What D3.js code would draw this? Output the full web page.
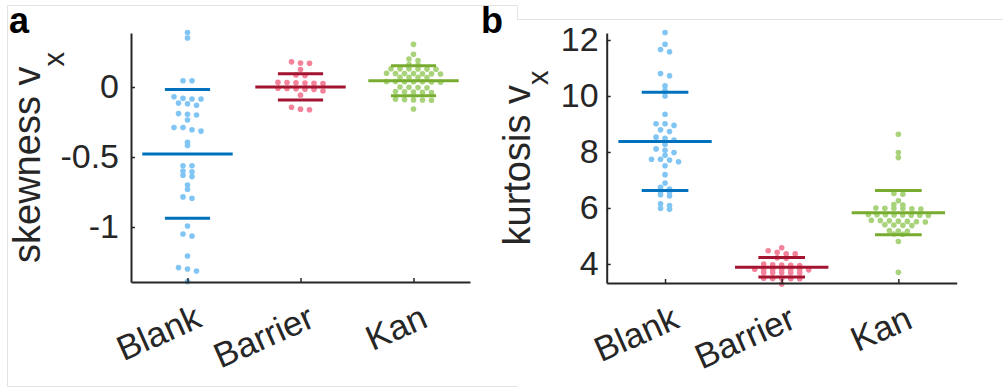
<!DOCTYPE html>
<html><head><meta charset="utf-8">
<script src="https://cdn.jsdelivr.net/npm/d3@7"></script>
<style>
body{margin:0;background:#fff;}
svg{display:block;font-family:"Liberation Sans",Arial,Helvetica,sans-serif;}
</style>
</head><body>
<svg id="chart" width="1003" height="387"></svg>
<script>
// ---------------- data ----------------
const categories = ["Blank", "Barrier", "Kan"];

const skewBlank = [0.39, 0.35, 0.045, 0.045, -0.069, -0.081, -0.086, -0.086, -0.115, -0.12, -0.13,
  -0.19, -0.195, -0.2, -0.236, -0.29, -0.29, -0.305, -0.315, -0.395, -0.418, -0.562, -0.562,
  -0.6, -0.605, -0.63, -0.64, -0.7, -0.73, -0.785, -0.795, -0.993, -1.05, -1.065, -1.207,
  -1.29, -1.30, -1.315, -1.39];
const skewBarrier = [0.18, 0.172, 0.17, 0.125, 0.086, 0.082, 0.034, 0.032, 0.03, 0.028, 0.026, 0.024,
  -0.008, -0.01, -0.012, -0.015, -0.018, -0.028, -0.058, -0.145, -0.158, -0.162];
const skewKan = [0.305, 0.234, 0.2, 0.19, 0.16, 0.158, 0.131, 0.13, 0.13, 0.129, 0.128, 0.127,
  0.098, 0.097, 0.096, 0.096, 0.095, 0.094, 0.093, 0.07, 0.069, 0.069, 0.068,
  0.04, 0.039, 0.038, 0.038, 0.037, 0.036, 0.035, 0.0, -0.002, -0.004, -0.006,
  -0.032, -0.034, -0.036, -0.038, -0.04, -0.088, -0.09, -0.092, -0.093, -0.095, -0.157];
const skewMean = [-0.478, 0.001, 0.045];
const skewSD = [0.46, 0.094, 0.107];

const kurtBlank = [12.27, 11.85, 11.66, 11.58, 10.8, 10.72, 10.36, 10.19, 10.0, 9.35,
  9.01, 9.01, 8.95, 8.79, 8.73, 8.53, 8.49, 8.43, 8.27, 8.11, 8.06, 7.98, 7.88,
  7.74, 7.74, 7.71, 7.65, 7.51, 7.19, 6.89, 6.74, 6.68, 6.58, 6.57, 6.47, 6.43,
  6.15, 6.09, 5.99, 5.95];
const kurtBarrier = [4.58, 4.47, 4.42, 4.36, 4.36, 4.22, 4.2, 4.0, 3.97, 3.96, 3.95, 3.94,
  3.81, 3.805, 3.8, 3.8, 3.795, 3.79, 3.79, 3.69, 3.688, 3.685, 3.683, 3.68,
  3.49, 3.485, 3.48, 3.475, 3.47, 3.28];
const kurtKan = [8.63, 7.98, 7.8, 6.52, 6.49, 6.26, 6.12, 6.1, 6.0, 5.99, 5.99, 5.98, 5.97, 5.96,
  5.77, 5.76, 5.76, 5.75, 5.75, 5.74, 5.74, 5.73, 5.56, 5.55, 5.54, 5.53, 5.52, 5.51, 5.5,
  5.40, 5.39, 5.38, 5.37, 5.19, 5.18, 5.17, 5.07, 5.06, 4.8, 3.7];
const kurtMean = [8.375, 3.88, 5.83];
const kurtSD = [1.755, 0.35, 0.79];

const skewTicks = [-1, -0.5, 0];
const kurtTicks = [4, 6, 8, 10, 12];

// ---------------- styles ----------------
const lineColors = ["#0072BD", "#A2142F", "#77AC30"];
const dotColors = ["#80C5F4", "#F4829A", "#A9D37A"];
const axisColor = "#262626";

const svg = d3.select("#chart");

// light frame lines of the original figure
const frame = svg.append("g").attr("stroke", "#e3e3e3").attr("stroke-width", 1).attr("fill", "none");
frame.append("path").attr("d", "M7.5,387 V5.5 H517.5 V19.5 H1003");
frame.append("path").attr("d", "M7.5,386.5 H517.5");

function swarm(values, yScale, gapPx, spacing, maxHalf) {
  const pts = values.map(v => ({v, y: yScale(v)})).sort((a, b) => a.y - b.y);
  const rows = []; let cur = [];
  pts.forEach(p => {
    if (cur.length && p.y - cur[cur.length - 1].y > gapPx) { rows.push(cur); cur = []; }
    cur.push(p);
  });
  if (cur.length) rows.push(cur);
  rows.forEach(r => {
    const n = r.length; let s = spacing;
    if (n > 1 && (n - 1) * s / 2 > maxHalf) s = 2 * maxHalf / (n - 1);
    r.forEach((p, i) => p.dx = (i - (n - 1) / 2) * s);
  });
  return pts;
}

function panel(opts) {
  const {left, right, top, bottom, domain, ticks, series, means, sds, label, letter, letterX, tickPad, fmt} = opts;
  const g = svg.append("g");
  const x = d3.scaleLinear().domain([0.5, 3.5]).range([left, right]);
  const y = d3.scaleLinear().domain(domain).range([bottom, top]);

  // points
  series.forEach((vals, ci) => {
    const pts = swarm(vals, y, 2.5, 9, 30);
    g.append("g").selectAll("circle").data(pts).join("circle")
      .attr("cx", d => x(ci + 1) + d.dx)
      .attr("cy", d => d.y)
      .attr("r", 2.8)
      .attr("fill", dotColors[ci]);
  });

  // mean and sd lines
  categories.forEach((c, ci) => {
    const cx = ci + 1;
    const segs = [
      {v: means[ci], hw: 0.4},
      {v: means[ci] + sds[ci], hw: 0.2},
      {v: means[ci] - sds[ci], hw: 0.2}
    ];
    g.append("g").selectAll("line").data(segs).join("line")
      .attr("x1", d => x(cx - d.hw)).attr("x2", d => x(cx + d.hw))
      .attr("y1", d => y(d.v)).attr("y2", d => y(d.v))
      .attr("stroke", lineColors[ci]).attr("stroke-width", 3);
  });

  // y axis
  const ya = g.append("g").attr("transform", `translate(${left},0)`)
    .call(d3.axisLeft(y).tickValues(ticks).tickFormat(fmt).tickSizeInner(-4).tickSizeOuter(0).tickPadding(tickPad));
  ya.select(".domain").attr("stroke", axisColor).attr("stroke-width", 2);
  ya.selectAll(".tick line").attr("stroke", axisColor).attr("stroke-width", 1.5);
  ya.selectAll(".tick text").attr("fill", axisColor).attr("font-size", 34)
    .attr("font-family", "Liberation Sans, Arial, sans-serif");

  // x axis
  const xa = g.append("g").attr("transform", `translate(0,${bottom})`)
    .call(d3.axisBottom(x).tickValues([1, 2, 3]).tickFormat("").tickSizeInner(-4).tickSizeOuter(0));
  xa.select(".domain").attr("stroke", axisColor).attr("stroke-width", 2);
  xa.selectAll(".tick line").attr("stroke", axisColor).attr("stroke-width", 1.5);
  g.append("g").selectAll("text").data(categories).join("text")
    .attr("transform", (d, i) => `translate(${x(i + 1) + 16},${bottom + 44}) rotate(-24)`)
    .attr("text-anchor", "end")
    .attr("font-size", 35)
    .attr("fill", axisColor)
    .text(d => d);

  // y label
  const yl = g.append("text")
    .attr("transform", `translate(${label.x},${(top + bottom) / 2}) rotate(-90)`)
    .attr("text-anchor", "middle")
    .attr("font-size", 38)
    .attr("fill", axisColor);
  yl.append("tspan").text(label.text + " v");
  yl.append("tspan").attr("font-size", 29).attr("dy", label.sub).text("x");

  // panel letter
  svg.append("text").attr("x", letterX).attr("y", 33)
    .attr("font-size", 36).attr("font-weight", "bold").attr("fill", "#000").text(letter);
}

panel({left: 131, right: 470, top: 33, bottom: 282, domain: [-1.393, 0.386],
  ticks: skewTicks, series: [skewBlank, skewBarrier, skewKan], means: skewMean, sds: skewSD,
  label: {text: "skewness", x: 40, sub: 24}, letter: "a", letterX: 9, tickPad: 12,
  fmt: d => String(d)});

panel({left: 606.7, right: 956.7, top: 33, bottom: 283, domain: [3.32, 12.25],
  ticks: kurtTicks, series: [kurtBlank, kurtBarrier, kurtKan], means: kurtMean, sds: kurtSD,
  label: {text: "kurtosis", x: 530, sub: 18}, letter: "b", letterX: 481, tickPad: 8,
  fmt: d => String(d)});
</script>
</body></html>
